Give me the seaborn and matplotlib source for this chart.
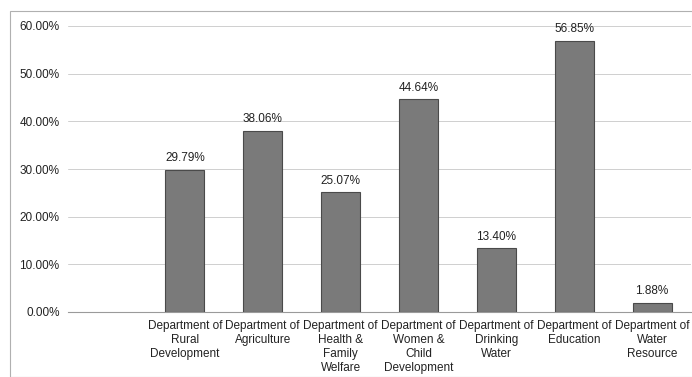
import matplotlib
matplotlib.use("Agg")
import matplotlib.pyplot as plt
import seaborn as sns
import pandas as pd
from matplotlib.patches import Rectangle

categories = [
    "Department of\nRural\nDevelopment",
    "Department of\nAgriculture",
    "Department of\nHealth &\nFamily\nWelfare",
    "Department of\nWomen &\nChild\nDevelopment",
    "Department of\nDrinking\nWater",
    "Department of\nEducation",
    "Department of\nWater\nResource",
]
values = [29.79, 38.06, 25.07, 44.64, 13.40, 56.85, 1.88]
yticks = [0, 10, 20, 30, 40, 50, 60]

sns.set_theme(style="white")
plt.rcParams["font.family"] = ["Liberation Sans", "DejaVu Sans"]

fig = plt.figure(figsize=(6.92, 3.77), dpi=100)
ax = fig.add_axes([68 / 692, (377 - 312) / 377, (691 - 68) / 692, (312 - 26) / 377])

df = pd.DataFrame({"dept": categories, "val": values})
sns.barplot(data=df, x="dept", y="val", order=categories, color="#7a7a7a",
            saturation=1, width=0.5, edgecolor="#4a4a4a", linewidth=0.8, ax=ax, zorder=3)

ax.set_xlim(-1.5, len(categories) - 0.5)
ax.set_ylim(0, 60)
ax.set_yticks(yticks)
ax.set_yticklabels([f"{t:.2f}%" for t in yticks], fontsize=8.5, color="#222222")
ax.set_xticks(range(len(categories)))
ax.set_xticklabels(categories, fontsize=8.5, color="#222222", linespacing=1.2)
ax.tick_params(axis="both", length=0, pad=6)
ax.set_xlabel("")
ax.set_ylabel("")
ax.yaxis.grid(True, color="#cfcfcf", linewidth=0.7, zorder=0)
for s in ["left", "right", "top"]:
    ax.spines[s].set_visible(False)
ax.spines["bottom"].set_color("#9a9a9a")
ax.spines["bottom"].set_linewidth(0.8)

for c in ax.containers:
    ax.bar_label(c, labels=[f"{v:.2f}%" for v in values], padding=4,
                 fontsize=8.5, color="#222222")

fig.patches.append(Rectangle((10 / 692, 0), 1, (377 - 11) / 377, transform=fig.transFigure,
                             fill=False, edgecolor="#b0b0b0", linewidth=0.8))

fig.savefig("out.png", dpi=100, facecolor="white")
